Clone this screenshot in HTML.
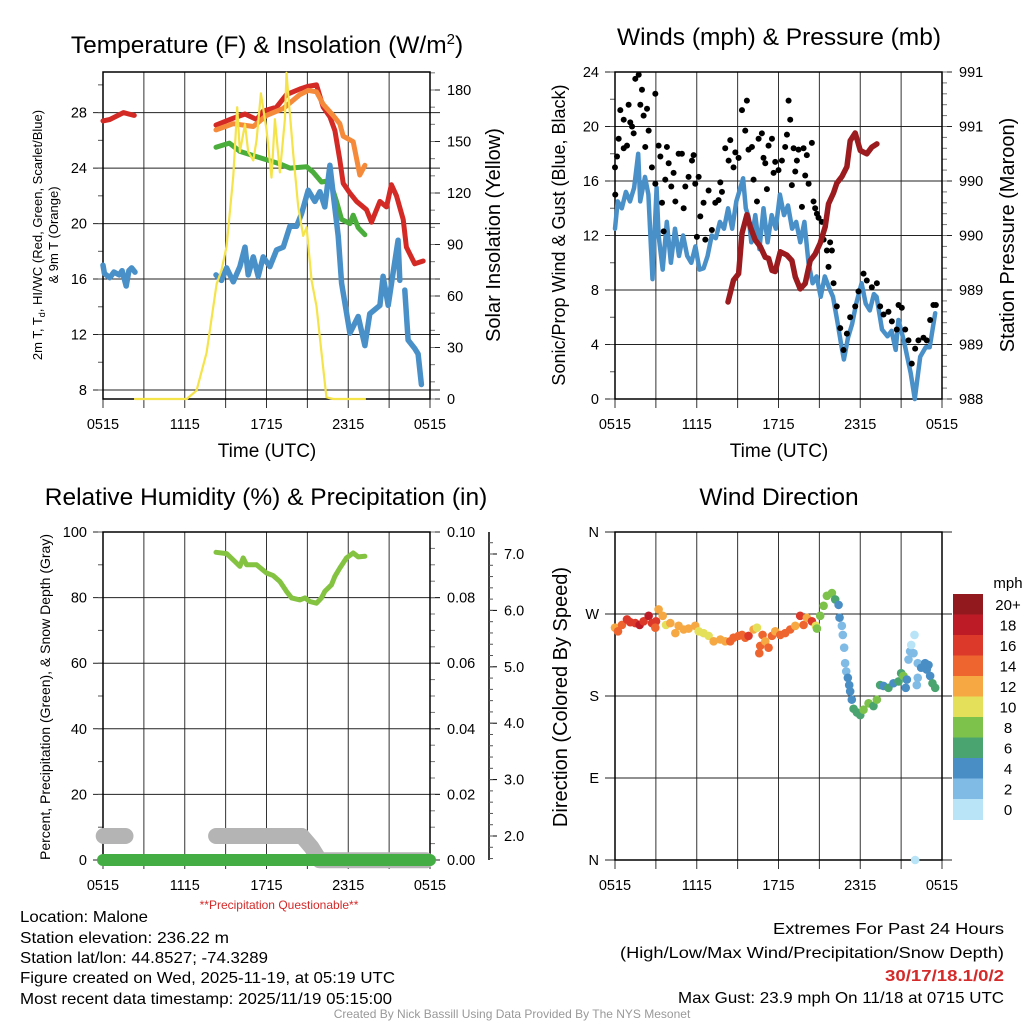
<!DOCTYPE html>
<html><head><meta charset="utf-8">
<style>
html,body{margin:0;padding:0;background:#fff;}
svg{display:block;font-family:"Liberation Sans",sans-serif;}
</style></head>
<body>
<svg id="fig" width="1024" height="1024" viewBox="0 0 1024 1024" xmlns="http://www.w3.org/2000/svg">
<rect x="0" y="0" width="1024" height="1024" fill="#fff"/>
<!-- titles -->
<text x="267" y="53" font-size="24.5" text-anchor="middle">Temperature (F) &amp; Insolation (W/m<tspan font-size="15" dy="-9">2</tspan><tspan dy="9">)</tspan></text>
<text x="779" y="45" font-size="24.5" text-anchor="middle">Winds (mph) &amp; Pressure (mb)</text>
<text x="266" y="505" font-size="24.5" text-anchor="middle">Relative Humidity (%) &amp; Precipitation (in)</text>
<text x="779" y="505" font-size="24.5" text-anchor="middle">Wind Direction</text>
<!-- axis titles -->
<text x="267" y="457" font-size="19" text-anchor="middle">Time (UTC)</text>
<text x="779" y="457" font-size="19" text-anchor="middle">Time (UTC)</text>
<text transform="translate(42,235) rotate(-90)" font-size="13" text-anchor="middle">2m T, T<tspan font-size="9" dy="3">d</tspan><tspan dy="-3">, HI/WC (Red, Green, Scarlet/Blue)</tspan></text>
<text transform="translate(58,235) rotate(-90)" font-size="13" text-anchor="middle">&amp; 9m T (Orange)</text>
<text transform="translate(500,235) rotate(-90)" font-size="20" text-anchor="middle">Solar Insolation (Yellow)</text>
<text transform="translate(565,235) rotate(-90)" font-size="18" text-anchor="middle">Sonic/Prop Wind &amp; Gust (Blue, Black)</text>
<text transform="translate(1014,235) rotate(-90)" font-size="20" text-anchor="middle">Station Pressure (Maroon)</text>
<text transform="translate(50,697) rotate(-90)" font-size="14" text-anchor="middle">Percent, Precipitation (Green), &amp; Snow Depth (Gray)</text>
<text transform="translate(567,697) rotate(-90)" font-size="20" text-anchor="middle">Direction (Colored By Speed)</text>
<text x="279" y="909" font-size="12" fill="#d42a2a" text-anchor="middle">**Precipitation Questionable**</text>
<!-- info text -->
<g font-size="16">
<text x="20" y="922" textLength="128" lengthAdjust="spacingAndGlyphs">Location: Malone</text>
<text x="20" y="943" textLength="209" lengthAdjust="spacingAndGlyphs">Station elevation: 236.22 m</text>
<text x="20" y="963" textLength="248" lengthAdjust="spacingAndGlyphs">Station lat/lon: 44.8527; -74.3289</text>
<text x="20" y="983" textLength="375" lengthAdjust="spacingAndGlyphs">Figure created on Wed, 2025-11-19, at 05:19 UTC</text>
<text x="20" y="1004" textLength="372" lengthAdjust="spacingAndGlyphs">Most recent data timestamp: 2025/11/19 05:15:00</text>
</g>
<g font-size="16">
<text x="773" y="934" textLength="231" lengthAdjust="spacingAndGlyphs">Extremes For Past 24 Hours</text>
<text x="620" y="958" textLength="384" lengthAdjust="spacingAndGlyphs">(High/Low/Max Wind/Precipitation/Snow Depth)</text>
<text x="885" y="981" fill="#d42a2a" font-weight="bold" textLength="119" lengthAdjust="spacingAndGlyphs">30/17/18.1/0/2</text>
<text x="678" y="1003" textLength="326" lengthAdjust="spacingAndGlyphs">Max Gust: 23.9 mph On 11/18 at 0715 UTC</text>
</g>
<text x="512" y="1018" font-size="12" fill="#999" text-anchor="middle">Created By Nick Bassill Using Data Provided By The NYS Mesonet</text>
<g id="layer"></g>
</svg>
<script>
// ---------- data ----------
const timeTickLabels = ["0515","1115","1715","2315","0515"];
// Temperature panel
const redH = [0,0.5,0.9,1.5,2.3,null,8.29,9.56,10.42,11.27,11.76,12.74,13.47,14.45,15.06,15.67,16.16,16.65,17.02,17.38,17.63,18.12,18.61,19.34,19.71,20.32,20.81,21.17,21.54,22.03,22.27,22.88,23.5];
const redT = [27.4,27.5,27.7,28.0,27.8,null,27.1,27.6,27.9,27.5,28.1,28.4,29.3,29.7,29.9,30.0,28.4,27.7,26.7,24.6,22.9,22.2,21.6,21.0,20.1,21.6,21.2,22.8,22.0,20.3,18.3,17.1,17.3];
const orangeH = [8.29,9.56,11.03,12.0,13.23,14.45,15.06,15.67,16.16,16.89,17.38,17.63,18.36,18.73,18.85,19.22];
const orangeT = [26.75,27.2,27.0,27.8,28.3,29.3,29.6,29.5,28.6,27.8,27.2,26.3,25.9,24.1,23.5,24.2];
const greenH = [8.29,9.27,10.05,11.03,12.0,12.98,13.72,14.94,15.43,16.04,16.65,17.14,17.51,18.12,18.36,18.73,19.22];
const greenT = [25.5,25.8,25.2,24.9,24.6,24.3,24.0,24.1,23.7,23.0,23.1,21.6,20.3,20.0,20.6,19.7,19.2];
const blueH = [0,0.1,0.5,0.8,1.2,1.4,1.7,1.9,2.1,2.35,null,8.29,8.7,9.07,9.56,10.05,10.42,10.66,11.03,11.39,11.76,12.25,12.74,13.23,13.72,14.21,14.57,15.06,15.55,15.92,16.28,16.65,16.89,17.26,17.51,18.12,18.73,19.22,19.58,20.32,20.56,20.93,21.3,21.66,21.78,null,22.15,22.39,22.88,23.13,23.37];
const blueT = [17.0,16.4,16.1,16.5,16.3,16.6,15.5,16.6,16.8,16.5,null,16.3,15.9,16.8,15.8,16.9,18.3,16.3,17.6,16.2,17.6,16.9,18.1,18.3,19.8,19.8,20.7,22.4,21.6,22.3,21.2,24.2,22.2,19.1,15.7,12.1,13.3,11.2,13.5,14.1,16.2,14.1,16.5,18.8,15.9,null,15.2,11.6,11.0,10.6,8.4];
const solarH = [2.35,6.14,6.87,7.6,8.34,8.7,9.07,9.56,9.85,10.05,10.42,10.66,11.03,11.27,11.59,12.0,12.37,12.62,12.98,13.35,13.47,13.96,14.33,14.69,14.94,15.31,15.67,16.04,16.4,16.9,19.22];
const solarI = [0,0,5,27,67,75,89,130,170,144,160,144,139,151,178,157,129,163,132,163,190,143,112,95,100,69,54,27,1,0,0];
const tempTicks = [8,12,16,20,24,28];
const solarTicks = [0,30,60,90,120,150,180];
// Wind panel
const windH = [0,0.2,0.5,0.8,1.1,1.4,1.7,1.85,2.2,2.45,2.75,3.05,3.2,3.5,3.8,4.1,4.4,4.7,5.0,5.3,5.6,5.9,6.2,6.5,6.8,7.1,7.4,7.7,8.0,8.3,8.6,8.9,9.2,9.4,9.6,9.8,10.0,10.3,10.6,10.9,11.2,11.5,11.8,12.1,12.4,12.7,13.0,13.3,13.6,13.9,14.2,14.5,14.8,15.1,15.4,15.7,16.0,16.3,16.6,16.8,17.1,17.4,17.7,18.1,18.4,18.7,19.0,19.2,19.6,20.0,20.3,20.6,20.8,21.2,21.7,22.0,22.4,22.8,23.1,23.5];
const windS = [12.5,14.5,14.0,15.2,14.5,15.5,18.0,14.5,16.3,15.0,8.8,15.5,12.0,9.5,13.0,10.0,12.5,10.5,12.0,10.5,10.0,11.2,9.5,9.6,10.5,12.0,11.8,13.0,12.5,14.0,12.5,14.5,15.5,16.2,14.0,13.4,11.5,13.5,11.0,14.0,11.5,13.5,12.5,15.0,13.5,14.2,12.5,13.0,11.5,13.0,10.0,8.5,9.0,7.5,9.0,8.2,7.5,5.8,4.0,2.9,4.5,5.5,7.0,8.5,7.0,6.5,7.7,7.5,5.1,4.6,5.0,3.6,5.8,4.3,1.9,0,3.1,3.8,3.8,6.3];
const gustH = [0,0.02,0.15,0.27,0.39,0.64,0.64,0.88,1.0,1.12,1.25,1.37,1.49,1.74,1.98,1.86,2.1,2.22,2.35,2.47,2.71,2.96,2.96,3.2,3.33,3.45,3.57,3.69,3.81,3.94,4.13,4.3,4.43,4.67,4.91,5.04,5.16,5.4,5.65,5.77,5.89,6.01,6.14,6.26,6.5,6.63,6.87,7.11,7.36,7.6,7.73,7.85,8.09,8.34,8.46,8.7,8.83,9.07,9.32,9.56,9.68,9.8,10.05,10.17,10.42,10.54,10.78,10.9,11.03,11.15,11.27,11.52,11.64,11.76,12.0,12.25,12.49,12.62,12.74,12.86,12.98,13.11,13.23,13.35,13.47,13.72,13.84,13.96,14.08,14.21,14.45,14.57,14.69,14.82,14.94,15.18,15.31,15.55,15.67,15.79,15.92,16.04,16.28,16.53,16.77,17.02,17.26,17.63,17.87,18.24,18.48,18.85,19.22,19.46,19.71,20.07,20.32,20.68,20.81,21.05,21.3,21.54,21.78,22.03,22.27,22.64,22.88,23.13,23.37,23.55];
const gustS = [17.0,15.0,17.8,19.1,21.2,20.5,18.4,18.6,21.6,20.3,20.0,19.5,23.5,23.8,22.7,21.6,20.8,18.5,21.3,19.7,17.0,22.4,15.8,18.6,17.8,14.4,12.3,16.1,18.5,17.3,15.6,16.6,14.5,18.0,18.0,14.0,15.6,16.3,17.5,17.9,15.8,11.9,16.3,13.4,14.4,11.7,15.3,12.4,14.4,14.6,15.9,15.2,18.4,17.5,19.0,17.0,18.1,17.7,21.2,19.7,21.9,18.3,18.5,16.1,14.5,19.1,19.5,17.7,17.3,15.4,18.6,19.1,16.6,17.4,16.8,17.5,18.5,19.4,21.9,20.5,15.7,18.4,16.7,17.5,18.3,14.1,18.4,16.4,17.9,15.8,18.8,14.5,14.0,13.6,13.3,13.0,11.7,10.9,9.7,11.5,10.9,8.5,6.8,5.2,3.6,4.8,6.0,6.8,7.9,9.2,8.7,8.2,8.5,6.8,6.2,6.4,5.7,5.1,6.9,6.7,5.1,4.3,2.6,3.7,4.3,4.5,4.3,5.8,6.9,6.9];
const pressH = [8.29,8.7,9.07,9.32,9.68,9.93,10.29,10.66,11.03,11.27,11.52,11.76,12.13,12.62,12.98,13.23,13.59,13.96,14.33,14.69,15.06,15.43,15.67,16.04,16.28,16.65,17.02,17.26,17.63,18.0,18.48,18.85,19.22];
const pressP = [988.89,989.09,989.15,989.52,989.69,989.58,989.46,989.40,989.30,989.29,989.18,989.17,989.35,989.32,989.27,989.12,989.01,989.06,989.27,989.33,989.43,989.58,989.79,989.89,989.98,990.04,990.13,990.37,990.44,990.28,990.25,990.31,990.34];
const windTicks = [0,4,8,12,16,20,24];
const pressTicks = [988,988.5,989,989.5,990,990.5,991];
const pressTickLabels = ["988","989","989","990","990","991","991"];
// Humidity panel
const rhH = [8.29,9.07,9.68,10.05,10.29,10.54,11.27,12.0,12.49,12.98,13.47,13.84,14.45,14.82,15.18,15.67,16.04,16.28,16.77,17.02,17.38,17.87,18.36,18.73,19.22];
const rhV = [93.8,93.4,91.0,89.5,92.1,90.0,90.0,87.5,86.7,84.9,81.9,79.9,79.3,79.9,78.8,78.3,79.9,81.9,83.9,86.5,89.0,92.1,93.6,92.4,92.6];
const precipH = [0,24];
const precipV = [0,0];
const snowH = [0.05,1.65,null,8.3,14.6,15.3,15.9,23.7];
const snowV = [2.0,2.0,null,2.0,2.0,1.8,1.57,1.57];
const rhTicks = [0,20,40,60,80,100];
const precipTicks = [0,0.02,0.04,0.06,0.08,0.10];
const precipTickLabels = ["0.00","0.02","0.04","0.06","0.08","0.10"];
const snowTicks = [2,3,4,5,6,7];
const snowTickLabels = ["2.0","3.0","4.0","5.0","6.0","7.0"];
// Wind direction panel
const dirH = [0,0.22,0.51,0.88,1.12,1.49,1.81,2.10,2.47,2.71,3.01,2.96,3.20,3.50,3.74,4.06,4.43,4.67,5.04,5.40,5.89,6.14,6.50,6.87,7.24,7.73,8.09,8.46,8.70,9.07,9.32,9.56,9.80,10.17,10.42,10.66,10.59,10.83,11.03,11.27,11.52,11.76,12.13,12.49,12.86,13.23,13.59,13.84,14.08,14.45,14.74,14.82,15.06,15.31,15.55,15.92,16.16,16.41,16.48,16.65,16.72,16.82,16.89,16.97,17.09,17.19,17.26,17.38,17.51,17.75,18.00,18.24,18.61,18.97,19.22,19.46,19.71,20.07,20.44,20.81,21.00,21.17,21.42,21.34,21.54,21.66,21.91,21.74,21.98,22.03,22.22,22.22,22.15,22.47,22.76,23.01,22.88,23.13,23.30,23.50];
const dirDeg = [255,251,258,264,261,260,258,262,268,260,262,255,275,268,258,260,249,257,253,254,257,251,249,246,240,242,240,240,244,246,247,244,246,253,255,235,227,247,240,233,246,251,247,249,253,257,268,258,266,262,257,254,268,279,290,293,286,280,266,257,247,233,216,207,200,192,185,176,166,162,159,165,172,169,176,192,191,189,194,196,205,202,198,189,220,229,227,236,247,0,216,200,192,211,216,214,209,202,194,189];
const dirSpd = [13,15,15,17,17,17,19,17,19,17,17,15,13,13,11,13,13,13,13,13,13,11,11,11,13,13,13,15,15,15,15,15,17,13,11,15,15,15,13,15,15,13,15,15,15,13,17,15,13,17,11,9,9,9,9,9,7,5,5,3,3,3,3,3,5,5,5,5,7,7,7,9,9,7,9,7,5,7,5,7,7,9,5,5,3,3,3,1,1,1,3,3,3,5,5,5,5,5,7,7];
const dirTicks = [0,90,180,270,360];
const dirTickLabels = ["N","E","S","W","N"];
const cbLabels = ["0","2","4","6","8","10","12","14","16","18","20+"];
const cbColors = ["#b9e4f8","#80bbe6","#4a8ec6","#4aa470","#7dc24a","#e5e05a","#f6a842","#ef652f","#dd392b","#bd1c27","#921a1e"];

// ---------- helpers ----------
const NS = "http://www.w3.org/2000/svg";
const layer = document.getElementById("layer");
function mk(tag, attrs, parent){
  const e = document.createElementNS(NS, tag);
  for (const k in attrs) e.setAttribute(k, attrs[k]);
  (parent||layer).appendChild(e);
  return e;
}
function makePanel(L, T, R, B){
  return {L,T,R,B, x: h => L + h/24*(R-L)};
}
function lin(d0,d1,p0,p1){ return v => p0 + (v-d0)/(d1-d0)*(p1-p0); }
function pathD(hs, vs, px, py){
  let d = "", pen = false;
  for (let i=0;i<hs.length;i++){
    if (hs[i]===null || vs[i]===null){ pen=false; continue; }
    d += (pen?"L":"M") + px(hs[i]).toFixed(1) + " " + py(vs[i]).toFixed(1);
    pen = true;
  }
  return d;
}
function drawGridX(p, name){
  for (let k=0;k<=8;k++){
    const x = p.x(k*3);
    const g = mk("line",{x1:x,y1:p.T,x2:x,y2:p.B+9,stroke:"#333","stroke-width":1});
    
    
  }
  for (let k=0;k<timeTickLabels.length;k++){
    const t = mk("text",{x:p.x(k*6),y:p.B+30,"font-size":14.5,"text-anchor":"middle"});
    t.textContent = timeTickLabels[k];
    
    
  }
}
function drawLeftAxis(p, ys, ticks, labels, minorStep, d0, d1, name, gridOn){
  ticks.forEach((v,i)=>{
    const y = ys(v);
    const l = mk("line",{x1:p.L-10,y1:y,x2:gridOn?p.R+10:p.L,y2:y,stroke:"#222","stroke-width":1});
    
    
    const t = mk("text",{x:p.L-16,y:y+5,"font-size":14.5,"text-anchor":"end"});
    t.textContent = labels ? labels[i] : String(v);
    
    
  });
  if (minorStep){
    for (let v=d0; v<=d1+1e-9; v+=minorStep){
      const y = ys(v);
      if (y < p.T-0.5 || y > p.B+0.5) continue;
      const m = mk("line",{x1:p.L-5,y1:y,x2:p.L,y2:y,stroke:"#555","stroke-width":1});
      
      
    }
  }
}
function drawRightAxis(p, ys, ticks, labels, minorStep, d0, d1, name){
  ticks.forEach((v,i)=>{
    const y = ys(v);
    const l = mk("line",{x1:p.R,y1:y,x2:p.R+10,y2:y,stroke:"#222","stroke-width":1});
    
    
    const t = mk("text",{x:p.R+17,y:y+5,"font-size":14.5});
    t.textContent = labels ? labels[i] : String(v);
    
    
  });
  if (minorStep){
    for (let v=d0; v<=d1+1e-9; v+=minorStep){
      const y = ys(v);
      if (y < p.T-0.5 || y > p.B+0.5) continue;
      const m = mk("line",{x1:p.R,y1:y,x2:p.R+5,y2:y,stroke:"#777","stroke-width":1});
      
      
    }
  }
}
function frame(p, name){
  const f = mk("rect",{x:p.L,y:p.T,width:p.R-p.L,height:p.B-p.T,fill:"none",stroke:"#000","stroke-width":1.5});
  
  
}
function line(hs, vs, p, ys, color, w, name){
  const e = mk("path",{d:pathD(hs,vs,p.x,ys),fill:"none",stroke:color,"stroke-width":w,"stroke-linejoin":"round","stroke-linecap":"round"});
  
  
  return e;
}

// ---------- panel 1: temperature ----------
const p1 = makePanel(103,72,430,399);
const tY = lin(8,31.0,390,71);
const sY = lin(0,180,399,90);
drawGridX(p1,"temp");
drawLeftAxis(p1,tY,tempTicks,null,2,8,31,"temp",true);
drawRightAxis(p1,sY,solarTicks,null,10,0,190,"insolation");
frame(p1,"temp");
line(redH,redT,p1,tY,"#d42a26",5,"temp-2m-series");
line(orangeH,orangeT,p1,tY,"#f58a3a",5,"temp-9m-series");
line(greenH,greenT,p1,tY,"#4aad3c",5,"dewpoint-series");
line(blueH,blueT,p1,tY,"#4a90c8",5.5,"windchill-series");
line(solarH,solarI,p1,sY,"#f5e34a",2.2,"insolation-series");

// ---------- panel 2: winds ----------
const p2 = makePanel(615,72,942,399);
const wY = lin(0,24,399,72);
const pY = lin(988,991,399,72);
drawGridX(p2,"wind");
drawLeftAxis(p2,wY,windTicks,null,2,0,24,"wind",true);
drawRightAxis(p2,pY,pressTicks,pressTickLabels,0.1,988,991,"pressure");
frame(p2,"wind");
line(windH,windS,p2,wY,"#4a90c8",4.5,"wind-speed-series");
for (let i=0;i<gustH.length;i++){
  const c = mk("circle",{cx:p2.x(gustH[i]),cy:wY(gustS[i]),r:3,fill:"#000"});
  
  
}
line(pressH,pressP,p2,pY,"#9b1b1e",5.5,"pressure-series");

// ---------- panel 3: humidity ----------
const p3 = makePanel(103,532,430,860);
const rY = lin(0,100,860,532);
const prY = lin(0,0.10,860,532);
const snY = lin(2,7,836,554);
drawGridX(p3,"humidity");
drawLeftAxis(p3,rY,rhTicks,null,10,0,100,"humidity",true);
drawRightAxis(p3,prY,precipTicks,precipTickLabels,0.005,0,0.1,"precip");
frame(p3,"humidity");
// snow axis
const sa = mk("line",{x1:489,y1:532,x2:489,y2:860,stroke:"#000","stroke-width":1.5});


snowTicks.forEach((v,i)=>{
  const y = snY(v);
  const t = mk("line",{x1:489,y1:y,x2:497,y2:y,stroke:"#000","stroke-width":1});
  
  
  const lb = mk("text",{x:504,y:y+5,"font-size":14.5});
  lb.textContent = snowTickLabels[i];
  
  
});
for (let v=1.6; v<=7.4; v+=0.2){
  const y = snY(v);
  if (y<532||y>860) continue;
  const m = mk("line",{x1:489,y1:y,x2:493,y2:y,stroke:"#555","stroke-width":1});
  
  
}
line(snowH,snowV,p3,snY,"#b4b4b4",16,"snow-depth-series");
line(precipH,precipV,p3,prY,"#44ad44",12,"precip-series");
line(rhH,rhV,p3,rY,"#84c341",5,"humidity-series");

// ---------- panel 4: wind direction ----------
const p4 = makePanel(615,532,942,860);
const dY = lin(0,360,860,532);
drawGridX(p4,"direction");
drawLeftAxis(p4,dY,dirTicks,dirTickLabels,0,0,360,"direction",true);
frame(p4,"direction");
function spdColor(s){ return cbColors[Math.min(10, Math.floor(s/2))]; }
for (let i=0;i<dirH.length;i++){
  const c = mk("circle",{cx:p4.x(dirH[i]),cy:dY(dirDeg[i]),r:4.3,fill:spdColor(dirSpd[i])});
  
  
}
// colorbar
const cbTop = 594, cbH = 20.5;
const mph = mk("text",{x:1008,y:588,"font-size":15,"text-anchor":"middle"});
mph.textContent = "mph";


for (let i=0;i<cbColors.length;i++){
  const idx = cbColors.length-1-i;
  const r = mk("rect",{x:953,y:cbTop+i*cbH,width:30,height:cbH+0.5,fill:cbColors[idx]});
  
  
  const t = mk("text",{x:1008,y:cbTop+i*cbH+cbH/2+5.5,"font-size":15,"text-anchor":"middle"});
  t.textContent = cbLabels[idx];
  
  
}
</script>
</body></html>
